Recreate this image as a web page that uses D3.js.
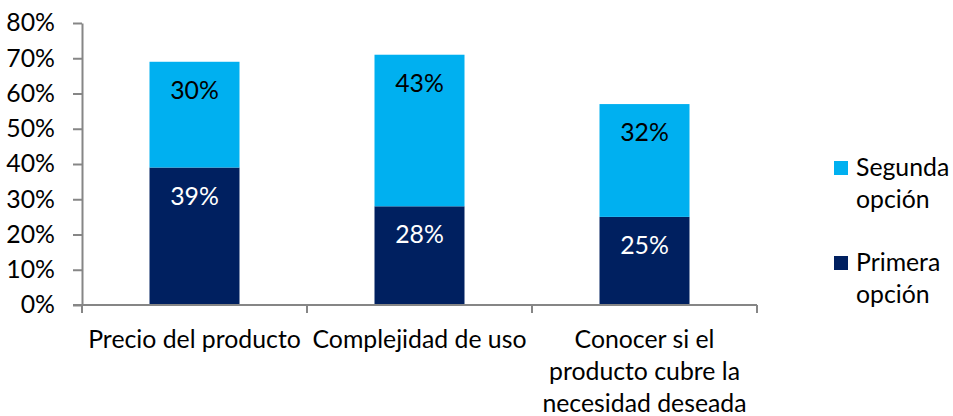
<!DOCTYPE html>
<html>
<head>
<meta charset="utf-8">
<script src="https://cdn.jsdelivr.net/npm/d3@7"></script>
<style>
  html, body { margin: 0; padding: 0; background: #fff; }
  svg { display: block; }
  text { font-family: Lato, "Open Sans", sans-serif; }
</style>
</head>
<body>
<svg id="chart" width="953" height="416"></svg>
<script>
// Categories (multi-line labels) and the two stacked series, in percent
const categories = [
  ["Precio del producto"],
  ["Complejidad de uso"],
  ["Conocer si el", "producto cubre la", "necesidad deseada"]
];
const primeraOpcion = [39, 28, 25];
const segundaOpcion = [30, 43, 32];
const seriesNames = ["Primera opción", "Segunda opción"];
const yTicks = [0, 10, 20, 30, 40, 50, 60, 70, 80];

const colors = { primera: "#002060", segunda: "#00B0F0" };
const axisColor = "#868686";
const fontSize = 24.8;

const svg = d3.select("#chart");
const margin = { left: 82, right: 196, top: 23, bottom: 111 };
const W = 953, H = 416;

const x = d3.scaleBand()
  .domain(d3.range(categories.length))
  .range([margin.left, W - margin.right])
  .paddingInner(0)
  .paddingOuter(0);

const y = d3.scaleLinear()
  .domain([0, 80])
  .range([H - margin.bottom, margin.top]);

const barW = x.bandwidth() * 0.4;

// Stack the two series
const rows = categories.map((c, i) => ({ i, primera: primeraOpcion[i], segunda: segundaOpcion[i] }));
const stack = d3.stack().keys(["primera", "segunda"]);
const layers = stack(rows);

const g = svg.append("g");

layers.forEach(layer => {
  g.append("g")
    .selectAll("rect")
    .data(layer)
    .join("rect")
    .attr("x", d => x(d.data.i) + (x.bandwidth() - barW) / 2)
    .attr("width", barW)
    .attr("y", d => y(d[1]))
    .attr("height", d => y(d[0]) - y(d[1]))
    .attr("fill", colors[layer.key]);

  // value labels near the top of each segment
  g.append("g")
    .selectAll("text")
    .data(layer)
    .join("text")
    .attr("x", d => x(d.data.i) + x.bandwidth() / 2)
    .attr("y", d => y(d[1]) + 37)
    .attr("text-anchor", "middle")
    .attr("font-size", fontSize)
    .attr("fill", layer.key === "primera" ? "#ffffff" : "#000000")
    .text(d => (d[1] - d[0]) + "%");
});

// Y axis
const yAxis = d3.axisLeft(y)
  .tickValues(yTicks)
  .tickFormat(d => d + "%")
  .tickSize(9)
  .tickSizeOuter(0)
  .tickPadding(18);

const yg = svg.append("g")
  .attr("transform", `translate(${margin.left},0)`)
  .call(yAxis);
yg.select(".domain").attr("stroke", axisColor).attr("stroke-width", 2);
yg.selectAll(".tick line").attr("stroke", axisColor).attr("stroke-width", 2);
yg.selectAll(".tick text")
  .attr("font-size", fontSize)
  .attr("fill", "#000")
  .attr("font-family", "Lato, 'Open Sans', sans-serif");

// X axis: ticks at band boundaries
const xBase = y(0);
const xg = svg.append("g");
xg.append("line")
  .attr("x1", margin.left - 9).attr("x2", W - margin.right)
  .attr("y1", xBase).attr("y2", xBase)
  .attr("stroke", axisColor).attr("stroke-width", 2);
const boundaries = d3.range(categories.length).map(i => x(i)).concat([x(categories.length - 1) + x.bandwidth()]);
xg.selectAll("line.tk")
  .data(boundaries)
  .join("line")
  .attr("class", "tk")
  .attr("x1", d => d).attr("x2", d => d)
  .attr("y1", xBase).attr("y2", xBase + 8)
  .attr("stroke", axisColor).attr("stroke-width", 2);

// Category labels
const lineH = 32;
categories.forEach((lines, i) => {
  const t = xg.append("text")
    .attr("x", x(i) + x.bandwidth() / 2)
    .attr("y", 348)
    .attr("text-anchor", "middle")
    .attr("font-size", fontSize)
    .attr("fill", "#000");
  lines.forEach((ln, k) => {
    t.append("tspan")
      .attr("x", x(i) + x.bandwidth() / 2)
      .attr("y", 348 + k * lineH)
      .text(ln);
  });
});

// Legend (second series listed first)
const legendItems = [
  { name: seriesNames[1], color: colors.segunda, top: 161 },
  { name: seriesNames[0], color: colors.primera, top: 256 }
];
const lg = svg.append("g");
legendItems.forEach(item => {
  lg.append("rect")
    .attr("x", 834).attr("y", item.top)
    .attr("width", 14).attr("height", 14)
    .attr("fill", item.color);
  const words = item.name.split(" ");
  const t = lg.append("text")
    .attr("font-size", fontSize)
    .attr("fill", "#000");
  words.forEach((w, k) => {
    t.append("tspan")
      .attr("x", 856)
      .attr("y", item.top + 15 + k * lineH)
      .text(w);
  });
});
</script>
</body>
</html>
